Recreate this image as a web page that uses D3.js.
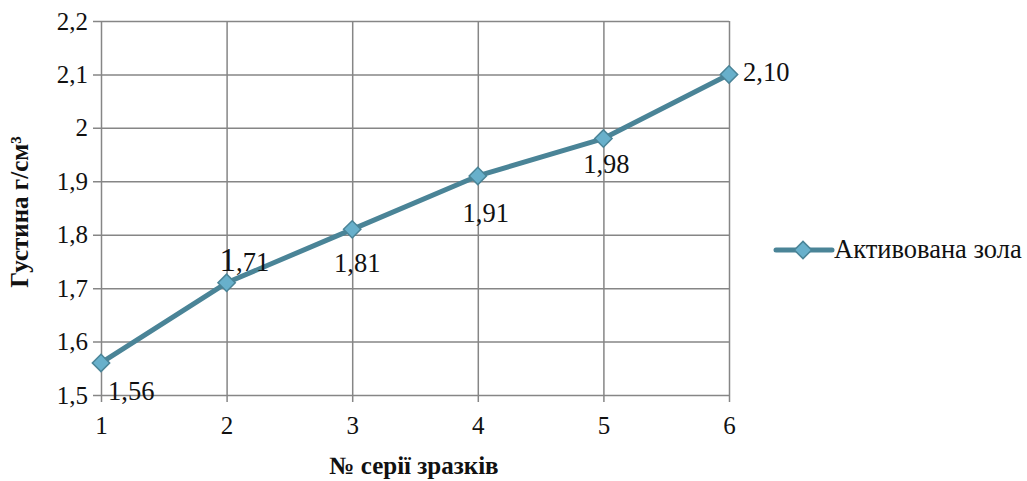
<!DOCTYPE html>
<html>
<head>
<meta charset="utf-8">
<script src="https://cdn.jsdelivr.net/npm/d3@7"></script>
<style>
  html, body { margin: 0; padding: 0; background: #fff; }
  svg { display: block; }
  svg text { fill: #111; }
</style>
</head>
<body>
<svg id="chart" width="1027" height="481"></svg>
<script>
// Series: density of samples with activated ash
const samples = [1, 2, 3, 4, 5, 6];
const density = [1.56, 1.71, 1.81, 1.91, 1.98, 2.10];
const densityLabels = ["1,56", "1,71", "1,81", "1,91", "1,98", "2,10"];
const yTicks = [1.5, 1.6, 1.7, 1.8, 1.9, 2.0, 2.1, 2.2];
const yTickLabels = ["1,5", "1,6", "1,7", "1,8", "1,9", "2", "2,1", "2,2"];
const seriesName = "Активована зола";

// Label offsets from each point: [dx, dy, anchor]
const labelPlacement = [
  [7, 37, "start"],
  [-7, -12, "start"],
  [5, 43, "middle"],
  [8, 46, "middle"],
  [3, 34, "middle"],
  [14, 7, "start"]
];

const FONT = "'Liberation Serif', 'Times New Roman', serif";
const svg = d3.select("#chart");
const plot = { left: 101, right: 729, top: 21, bottom: 395 };

const x = d3.scaleLinear().domain([1, 6]).range([plot.left, plot.right]);
const y = d3.scaleLinear().domain([1.5, 2.2]).range([plot.bottom, plot.top]);

const gridColor = "#868686";
const lineColor = "#4a8497";
const markerFill = "#68b0cb";

// Horizontal grid lines with outward ticks on the left
const yAxis = d3.axisLeft(y)
  .tickValues(yTicks)
  .tickSize(-(plot.right - plot.left))
  .tickPadding(13)
  .tickFormat((d, i) => yTickLabels[i]);

const gy = svg.append("g")
  .attr("transform", `translate(${plot.left},0)`)
  .call(yAxis)
  .attr("font-family", FONT)
  .attr("font-size", 25);
gy.select(".domain").remove();
gy.selectAll(".tick line")
  .attr("x1", -8)
  .attr("stroke", gridColor)
  .attr("stroke-width", 1.5);
gy.selectAll(".tick text")
  .attr("fill", "#111");

// Vertical grid lines with outward ticks at the bottom
const xAxis = d3.axisBottom(x)
  .tickValues(samples)
  .tickSize(-(plot.bottom - plot.top))
  .tickPadding(21)
  .tickFormat(d3.format("d"));

const gx = svg.append("g")
  .attr("transform", `translate(0,${plot.bottom})`)
  .call(xAxis)
  .attr("font-family", FONT)
  .attr("font-size", 25);
gx.select(".domain").remove();
gx.selectAll(".tick line")
  .attr("y1", 7)
  .attr("stroke", gridColor)
  .attr("stroke-width", 1.5);
gx.selectAll(".tick text")
  .attr("fill", "#111");

// Axis titles
svg.append("text")
  .attr("transform", `translate(28,212) rotate(-90)`)
  .attr("text-anchor", "middle")
  .attr("font-family", FONT)
  .attr("font-size", 25)
  .attr("font-weight", "bold")
  .text("Густина г/см³");

svg.append("text")
  .attr("x", 414)
  .attr("y", 474)
  .attr("text-anchor", "middle")
  .attr("font-family", FONT)
  .attr("font-size", 25)
  .attr("font-weight", "bold")
  .text("№ серії зразків");

// Data line
const data = samples.map((s, i) => ({ s, v: density[i], label: densityLabels[i], place: labelPlacement[i] }));

svg.append("path")
  .datum(data)
  .attr("fill", "none")
  .attr("stroke", lineColor)
  .attr("stroke-width", 5)
  .attr("stroke-linejoin", "round")
  .attr("d", d3.line().x(d => x(d.s)).y(d => y(d.v)));

const marker = d3.symbol().type(d3.symbolSquare).size(150);

svg.append("g")
  .selectAll("path")
  .data(data)
  .join("path")
  .attr("transform", d => `translate(${x(d.s)},${y(d.v)}) rotate(45)`)
  .attr("d", marker)
  .attr("fill", markerFill)
  .attr("stroke", lineColor)
  .attr("stroke-width", 1.5);

// Value labels (the second label has an enlarged leading digit)
const labels = svg.append("g")
  .selectAll("text")
  .data(data)
  .join("text")
  .attr("x", d => x(d.s) + d.place[0])
  .attr("y", d => y(d.v) + d.place[1])
  .attr("text-anchor", d => d.place[2])
  .attr("font-family", FONT)
  .attr("font-size", 26.5);

labels.each(function (d, i) {
  const t = d3.select(this);
  if (i === 1) {
    t.append("tspan").attr("font-size", 33).text(d.label.slice(0, 1));
    t.append("tspan").text(d.label.slice(1));
  } else {
    t.text(d.label);
  }
});

// Legend
const lg = svg.append("g").attr("transform", "translate(776,250)");
lg.append("line")
  .attr("x1", 0).attr("x2", 56)
  .attr("stroke", lineColor)
  .attr("stroke-width", 5)
  .attr("stroke-linecap", "round");
lg.append("path")
  .attr("transform", "translate(27,0) rotate(45)")
  .attr("d", marker)
  .attr("fill", markerFill)
  .attr("stroke", lineColor)
  .attr("stroke-width", 1.5);
lg.append("text")
  .attr("x", 58)
  .attr("y", 8)
  .attr("font-family", FONT)
  .attr("font-size", 26.5)
  .text(seriesName);
</script>
</body>
</html>
